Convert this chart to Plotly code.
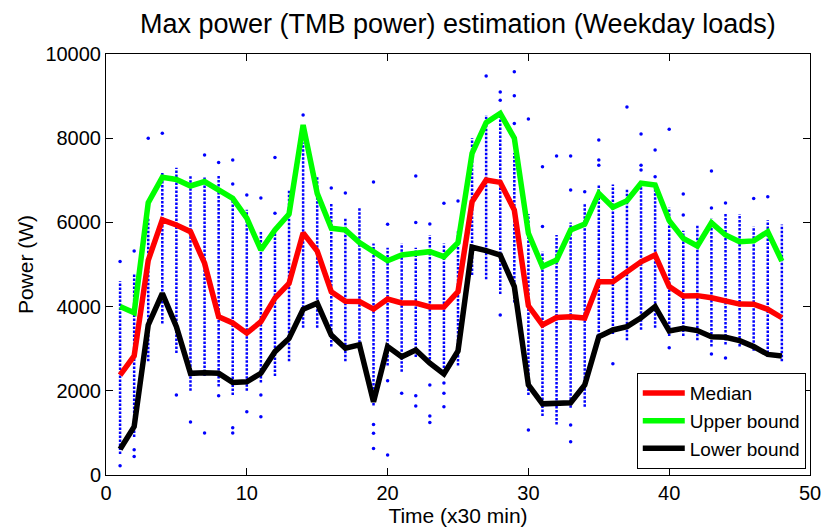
import plotly.graph_objects as go

# Half-hour slots of the day
slots = list(range(1, 49))

# Estimated max power per slot (W)
median = [2375, 2830, 5100, 6060, 5940, 5780, 5030, 3760, 3610, 3370, 3640, 4200,
          4550, 5750, 5320, 4355, 4125, 4120, 3940, 4180, 4085, 4085, 3990, 3990,
          4355, 6490, 7005, 6950, 6295, 4020, 3565, 3740, 3760, 3730, 4590, 4590,
          4830, 5065, 5225, 4475, 4250, 4260, 4210, 4140, 4060, 4055, 3935, 3735]
upper = [4000, 3855, 6470, 7070, 7020, 6865, 6970, 6770, 6570, 6100, 5345, 5820,
         6200, 8315, 6690, 5860, 5820, 5520, 5320, 5090, 5225, 5250, 5305, 5185,
         5520, 7640, 8370, 8590, 8000, 5740, 4950, 5105, 5820, 5960, 6690, 6360,
         6515, 6930, 6890, 6040, 5620, 5440, 5990, 5700, 5540, 5560, 5780, 5080]
lower = [610, 1150, 3565, 4315, 3525, 2415, 2430, 2415, 2200, 2215, 2415, 2930,
         3245, 3935, 4080, 3325, 3010, 3090, 1740, 3050, 2810, 2970, 2655, 2400,
         2945, 5410, 5330, 5225, 4475, 2140, 1690, 1690, 1715, 2140, 3285, 3445,
         3525, 3735, 4000, 3420, 3485, 3430, 3285, 3270, 3190, 3050, 2865, 2825]

# Span of the densely packed daily samples in each slot (W)
dense_lo = [500, 900, 2700, 3600, 2900, 2000, 2350, 2100, 1900, 2000, 2200, 2350,
            2700, 3500, 3500, 3050, 2700, 2950, 1650, 2600, 2450, 2800, 2650, 2350,
            2600, 4750, 4650, 4300, 4100, 1900, 1400, 1200, 1600, 1620, 3300, 3350,
            3200, 3450, 3500, 3300, 3300, 3200, 3050, 3100, 3050, 2950, 2800, 2700]
dense_hi = [4600, 4800, 6100, 7200, 7300, 7100, 7100, 7100, 6650, 6300, 5800, 5800,
            6750, 7900, 7100, 6450, 6100, 6350, 5500, 5400, 5500, 5400, 5700, 5500,
            5800, 8000, 8550, 8600, 7650, 6200, 5300, 5700, 6000, 6450, 6900, 6900,
            6800, 6950, 6850, 6350, 5800, 5950, 6100, 6200, 6200, 5900, 6050, 5950]

# Isolated daily samples outside the dense span
out_slot = [1, 1, 2, 2, 2, 3, 4, 5, 6, 7, 7, 8, 8, 9, 9, 9, 9, 10, 10, 11, 11, 11,
            12, 12, 14, 16, 17, 19, 19, 19, 19, 20, 20, 20, 21, 22, 22, 22, 22,
            23, 23, 23, 23, 24, 24, 24, 24, 25, 27, 28, 28, 28, 29, 29, 29,
            30, 30, 31, 31, 32, 33, 33, 33, 33, 34, 35, 35, 35, 36, 37, 38, 38, 38,
            39, 39, 40, 40, 41, 41, 43, 43, 43, 44, 44, 46, 47, 48]
out_val = [5070, 220, 5320, 600, 440, 8000, 8120, 1900, 1260, 7600, 1000, 7420, 1885,
           7480, 6910, 1125, 1000, 6650, 1500, 6580, 1900, 1385,
           7540, 6220, 8550, 6815, 6700, 6960, 1200, 990, 630, 5955, 2240, 475,
           1940, 7100, 6000, 1885, 1640,
           5960, 2140, 1400, 1250, 6455, 2185, 1940, 1620, 6510, 9480, 9100, 8900, 3800,
           9580, 9010, 8350,
           8455, 1070, 7320, 5900, 7575, 7575, 6770, 1190, 790, 6730, 7960, 7480, 7360,
           2640, 8740, 8100, 7360, 7245,
           7720, 7085, 8215, 3025, 6675, 6175, 7220, 6340, 2875, 6460, 2780, 6570, 6610, 2335]

x_ticks = [0, 10, 20, 30, 40, 50]
y_ticks = [0, 2000, 4000, 6000, 8000, 10000]

BLUE = "#0000ff"
FONT = "Liberation Sans, Arial, Helvetica, sans-serif"

# Vertical sample columns, one segment per slot
col_x, col_y = [], []
for s, lo, hi in zip(slots, dense_lo, dense_hi):
    col_x += [s, s, None]
    col_y += [lo, hi, None]

fig = go.Figure()
fig.add_trace(go.Scatter(x=col_x, y=col_y, mode="lines",
                         line=dict(color=BLUE, width=2.5, dash="2.5px,1.5px"),
                         showlegend=False, hoverinfo="skip"))
fig.add_trace(go.Scatter(x=out_slot, y=out_val, mode="markers",
                         marker=dict(color=BLUE, size=3.5), showlegend=False))
fig.add_trace(go.Scatter(x=slots, y=median, mode="lines", name="Median",
                         line=dict(color="#ff0000", width=5.5)))
fig.add_trace(go.Scatter(x=slots, y=upper, mode="lines", name="Upper bound",
                         line=dict(color="#00ff00", width=5.5)))
fig.add_trace(go.Scatter(x=slots, y=lower, mode="lines", name="Lower bound",
                         line=dict(color="#000000", width=5.5)))

axis_common = dict(showline=True, linecolor="black", linewidth=1, mirror="ticks",
                   ticks="inside", ticklen=7, tickcolor="black", showgrid=False,
                   zeroline=False, automargin=False, tickformat="d",
                   tickfont=dict(family=FONT, size=20, color="black"))

fig.update_layout(
    width=825, height=532,
    margin=dict(l=106, r=15, t=54, b=57),
    paper_bgcolor="white", plot_bgcolor="white",
    title=dict(text="Max power (TMB power) estimation (Weekday loads)",
               x=0.555, xanchor="center", y=0.955, yanchor="middle",
               font=dict(family=FONT, size=27, color="black")),
    xaxis=dict(range=[0, 50], tickvals=x_ticks,
               title=dict(text="Time (x30 min)", standoff=2,
                          font=dict(family=FONT, size=21, color="black")),
               **axis_common),
    yaxis=dict(range=[0, 10000], tickvals=y_ticks,
               title=dict(text="Power (W)", standoff=6,
                          font=dict(family=FONT, size=21, color="black")),
               **axis_common),
    legend=dict(x=0.994, y=0.014, xanchor="right", yanchor="bottom",
                bgcolor="white", bordercolor="black", borderwidth=1,
                font=dict(family=FONT, size=19, color="black"),
                itemwidth=42, tracegroupgap=0),
    showlegend=True,
)

fig.write_html("out.html")
